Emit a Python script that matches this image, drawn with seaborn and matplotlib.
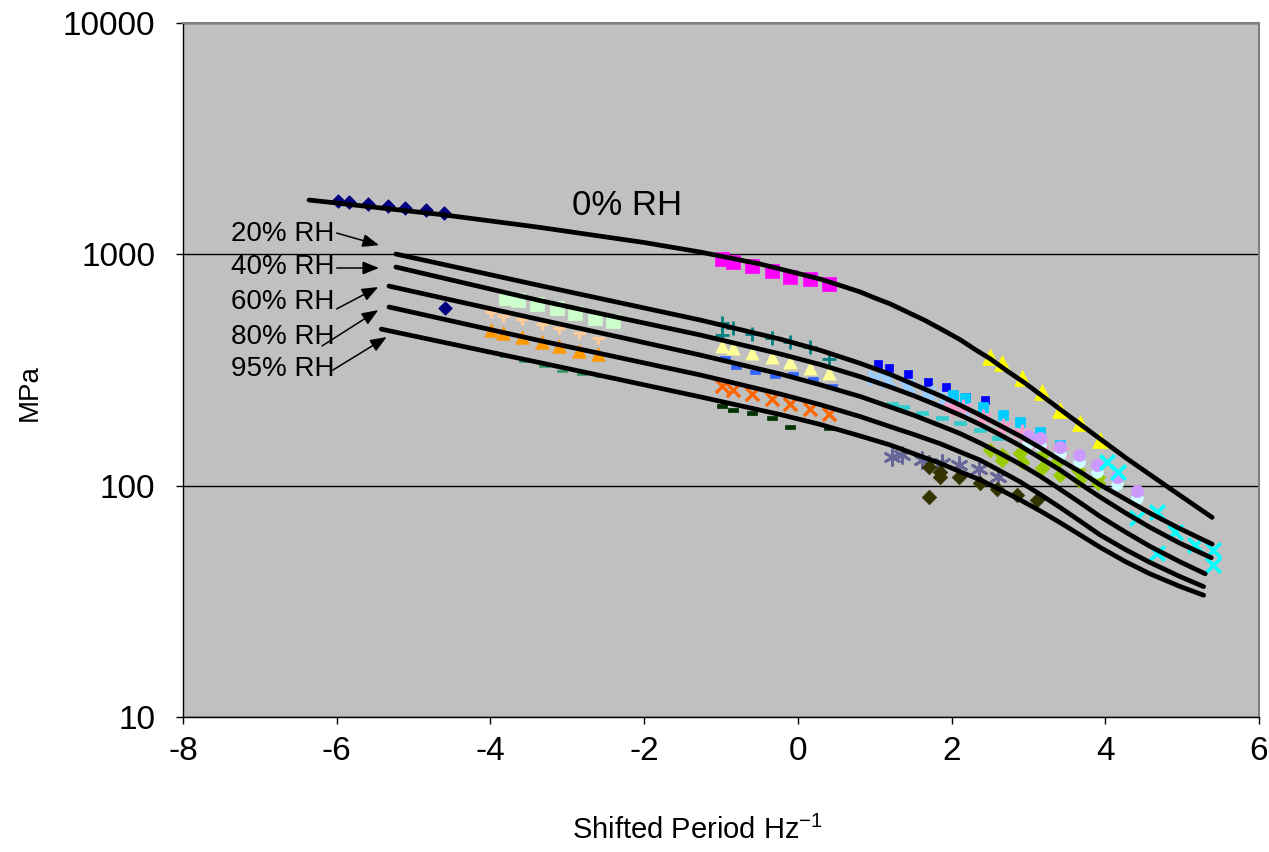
import matplotlib
matplotlib.use("Agg")
import matplotlib.pyplot as plt
from matplotlib.path import Path
from matplotlib.ticker import NullLocator
import seaborn as sns

# ---- fitted master curves (shifted period, storage modulus in MPa) ----
rh0_x = [-6.36, -5.44, -4.59, -3.39, -2.00, -1.27, -0.49, -0.10, 0.29, 0.55, 0.81, 1.00,
         1.20, 1.42, 1.65, 1.88, 2.11, 2.30, 2.50, 2.73, 2.96, 3.41, 3.87, 4.28, 4.84, 5.39]
rh0_y = [1717, 1589, 1479, 1312, 1125, 1023, 908, 843, 782, 734, 688, 648,
         611, 564, 519, 472, 428, 389, 354, 312, 277, 214, 165, 131, 97.3, 72.9]

rh20_x = [-5.23, -3.39, -2.31, -1.27, -0.23, 0.29, 0.81, 1.20, 1.52, 1.85, 2.11,
          2.37, 2.63, 2.89, 3.15, 3.41, 3.67, 3.93, 4.26, 4.58, 4.97, 5.39]
rh20_y = [1003, 737, 617, 520, 430, 385, 338, 303, 273, 245, 223,
          202, 182, 164, 146, 129, 115, 101, 87.5, 76.1, 65.2, 55.9]

rh40_x = [-5.23, -3.39, -2.31, -1.27, -0.23, 0.29, 0.81, 1.20, 1.52, 1.85, 2.11,
          2.37, 2.63, 2.89, 3.15, 3.41, 3.67, 3.93, 4.26, 4.58, 4.97, 5.38]
rh40_y = [881, 635, 531, 448, 371, 334, 296, 267, 244, 220, 202,
          184, 166, 149, 132, 117, 102, 89.4, 76.3, 66.1, 56.4, 48.8]

rh60_x = [-5.32, -3.39, -2.31, -1.27, -0.23, 0.29, 0.81, 1.20, 1.52, 1.85, 2.11,
          2.37, 2.63, 2.89, 3.15, 3.41, 3.67, 3.93, 4.26, 4.58, 4.97, 5.30]
rh60_y = [729, 525, 438, 367, 304, 273, 243, 219, 201, 182, 168,
          153, 138, 124, 110, 96.6, 84.5, 73.7, 63.1, 54.7, 46.9, 41.6]

rh80_x = [-5.32, -3.39, -2.31, -1.27, -0.23, 0.29, 0.81, 1.20, 1.52, 1.85, 2.11,
          2.37, 2.63, 2.89, 3.15, 3.41, 3.67, 3.93, 4.26, 4.58, 4.97, 5.28]
rh80_y = [592, 426, 357, 301, 249, 224, 199, 180, 166, 152, 140,
          129, 116, 104, 91.8, 80.6, 70.4, 61.3, 53.0, 46.6, 40.5, 36.6]

rh95_x = [-5.42, -3.39, -2.31, -1.27, -0.23, 0.29, 0.81, 1.20, 1.52, 1.85, 2.11,
          2.37, 2.63, 2.89, 3.15, 3.41, 3.67, 3.93, 4.26, 4.58, 4.97, 5.28]
rh95_y = [475, 342, 287, 242, 203, 184, 164, 150, 137, 125, 115,
          106, 96.2, 86.9, 77.9, 69.3, 61.3, 54.2, 47.0, 41.6, 36.7, 33.6]

# ---- measured points, one array pair per test condition ----
navy_x = [-5.98, -5.84, -5.59, -5.33, -5.11, -4.84, -4.60, -4.59]
navy_y = [1700, 1683, 1650, 1618, 1586, 1554, 1509, 586]

magenta_x = [-0.99, -0.84, -0.60, -0.34, -0.10, 0.16, 0.41]
magenta_y = [954, 926, 890, 847, 798, 782, 744]

mint_x = [-3.80, -3.64, -3.39, -3.13, -2.90, -2.64, -2.41]
mint_y = [647, 634, 610, 586, 558, 530, 515]

peach_x = [-3.99, -3.84, -3.59, -3.33, -3.11, -2.85, -2.60]
peach_y = [547, 525, 510, 485, 466, 444, 422]

orange_x = [-3.99, -3.84, -3.59, -3.33, -3.11, -2.85, -2.60]
orange_y = [471, 457, 439, 418, 401, 382, 371]

seagreen_x = [-3.97, -3.81, -3.56, -3.30, -3.07, -2.81, -2.56]
seagreen_y = [378, 363, 346, 329, 313, 304, 298]

teal_x = [-0.99, -0.99, -0.84, -0.60, -0.34, -0.10, 0.16, 0.41]
teal_y = [505, 448, 480, 452, 435, 418, 397, 353]

paleyellow_x = [-0.99, -0.84, -0.60, -0.34, -0.10, 0.16, 0.41]
paleyellow_y = [401, 394, 374, 360, 342, 322, 307]

royalblue_x = [-0.95, -0.81, -0.56, -0.30, -0.06, 0.20, 0.44]
royalblue_y = [356, 326, 310, 298, 304, 289, 270]

red_orange_x = [-0.99, -0.84, -0.60, -0.34, -0.10, 0.16, 0.41]
red_orange_y = [270, 259, 249, 237, 225, 214, 204]

darkgreen_x = [-0.99, -0.84, -0.60, -0.34, -0.10, 0.41]
darkgreen_y = [221, 212, 206, 196, 179, 177]

blue_x = [1.04, 1.19, 1.43, 1.69, 1.93, 2.19, 2.44]
blue_y = [336, 322, 304, 281, 267, 242, 234]

skyblue_x = [1.00, 1.16, 1.42, 1.68, 1.91, 2.15]
skyblue_y = [292, 286, 270, 251, 239, 217]

turquoise_x = [1.23, 1.37, 1.62, 1.88, 2.11, 2.37, 2.60]
turquoise_y = [225, 219, 206, 196, 186, 174, 161]

slate_x = [1.23, 1.36, 1.62, 1.88, 2.10, 2.36, 2.60]
slate_y = [133, 136, 129, 125, 123, 118, 109]

deepsky_x = [2.02, 2.17, 2.41, 2.67, 2.89, 3.15, 3.41]
deepsky_y = [246, 239, 219, 202, 188, 170, 150]

pink_x = [2.01, 2.15, 2.41, 2.67, 2.92, 3.15, 3.41]
pink_y = [219, 217, 196, 179, 169, 153, 140]

olive_x = [1.71, 1.85, 1.85, 2.10, 2.37, 2.59, 2.85, 3.11, 1.71]
olive_y = [120, 115, 109, 109, 103, 96.7, 91.1, 86.7, 89.3]

yellowgreen_x = [2.50, 2.66, 2.89, 3.18, 3.37, 3.64, 3.91, 2.66, 2.92, 3.18, 3.41, 3.66, 3.91]
yellowgreen_y = [143, 136, 138, 136, 127, 117, 109, 129, 127, 119, 111, 106, 103]

yellow_x = [2.50, 2.66, 2.92, 3.18, 3.41, 3.67, 3.93]
yellow_y = [360, 339, 292, 254, 212, 186, 157]

palecyan_x = [2.99, 3.15, 3.41, 3.66, 3.89, 4.15, 4.41]
palecyan_y = [153, 150, 137, 127, 115, 102, 88.4]

lavender_x = [2.99, 3.15, 3.41, 3.66, 3.89, 4.15, 4.41]
lavender_y = [164, 161, 147, 136, 123, 109, 94.8]

cyan_x = [4.02, 4.17, 4.41, 4.67, 4.67, 4.91, 5.17, 5.40, 5.40]
cyan_y = [127, 115, 72.4, 76.9, 51.1, 63.0, 55.4, 52.7, 45.4]

# curve labels
rh_labels = ["20% RH", "40% RH", "60% RH", "80% RH", "95% RH"]
rh_label_y = [1224, 881, 622, 439, 319]
arrow_start_x = [-6.00, -6.00, -6.00, -6.19, -6.05]
arrow_start_y = [1236, 873, 581, 402, 316]
arrow_end_x = [-5.45, -5.45, -5.46, -5.46, -5.35]
arrow_end_y = [1096, 873, 722, 574, 439]

x_ticks = [-8, -6, -4, -2, 0, 2, 4, 6]
x_tick_labels = ["-8", "-6", "-4", "-2", "0", "2", "4", "6"]
y_ticks = [10, 100, 1000, 10000]
y_tick_labels = ["10", "100", "1000", "10000"]

# ---- style ----
sns.set_theme(style="white")
plt.rcParams["font.family"] = ["Liberation Sans", "DejaVu Sans"]
plt.rcParams["axes.unicode_minus"] = False
plt.rcParams["mathtext.fontset"] = "custom"
plt.rcParams["mathtext.rm"] = "Liberation Sans"
plt.rcParams["mathtext.it"] = "Liberation Sans:italic"
plt.rcParams["mathtext.default"] = "regular"

fig = plt.figure(figsize=(12.69, 8.52), dpi=100)
fig.patch.set_facecolor("white")
ax = fig.add_axes([183 / 1269, 1 - 717 / 852, 1076 / 1269, 694 / 852])
ax.set_facecolor("#C0C0C0")

# custom marker shapes
t_bar = Path([(-1, 0.45), (1, 0.45), (0, 0.45), (0, -0.55)],
             [Path.MOVETO, Path.LINETO, Path.MOVETO, Path.LINETO])
dash = Path([(-1, -0.32), (1, -0.32), (1, 0.32), (-1, 0.32), (-1, -0.32)],
            [Path.MOVETO, Path.LINETO, Path.LINETO, Path.LINETO, Path.CLOSEPOLY])
asterisk = (6, 2, 0)

# (x, y, colour, marker, area, linewidth, filled)
point_sets = [
    (navy_x, navy_y, "#000080", "D", 48, 0.5, True),
    (magenta_x, magenta_y, "#FF00FF", "s", 90, 0.5, True),
    (mint_x, mint_y, "#CCFFCC", "s", 90, 0.5, True),
    (peach_x, peach_y, "#FFCC99", t_bar, 75, 2.4, True),
    (orange_x, orange_y, "#FF9900", "^", 95, 0.5, True),
    (seagreen_x, seagreen_y, "#339966", dash, 45, 0.5, True),
    (teal_x, teal_y, "#008080", "+", 110, 2.0, False),
    (paleyellow_x, paleyellow_y, "#FFFF99", "^", 90, 0.5, True),
    (royalblue_x, royalblue_y, "#3366FF", dash, 55, 0.5, True),
    (red_orange_x, red_orange_y, "#FF6600", "x", 90, 2.4, False),
    (darkgreen_x, darkgreen_y, "#003300", dash, 60, 0.5, True),
    (blue_x, blue_y, "#0000FF", "s", 36, 0.5, True),
    (skyblue_x, skyblue_y, "#99CCFF", "x", 90, 3.5, False),
    (turquoise_x, turquoise_y, "#33CCCC", dash, 65, 0.5, True),
    (slate_x, slate_y, "#666699", asterisk, 130, 2.0, False),
    (deepsky_x, deepsky_y, "#00CCFF", "s", 55, 0.5, True),
    (pink_x, pink_y, "#FF99CC", asterisk, 120, 2.0, False),
    (olive_x, olive_y, "#333300", "D", 55, 0.5, True),
    (yellowgreen_x, yellowgreen_y, "#99CC00", "D", 55, 0.5, True),
    (yellow_x, yellow_y, "#FFFF00", "^", 130, 0.5, True),
    (palecyan_x, palecyan_y, "#CCFFFF", "o", 70, 0.5, True),
    (lavender_x, lavender_y, "#CC99FF", "o", 80, 0.5, True),
    (cyan_x, cyan_y, "#00FFFF", "x", 110, 2.6, False),
]

for px, py, col, mk, area, lw, filled in point_sets:
    kws = dict(x=px, y=py, color=col, marker=mk, s=area, linewidth=lw,
               ax=ax, zorder=2, legend=False)
    if filled:
        kws["edgecolor"] = col
    sns.scatterplot(**kws)

# master curves drawn over the data
for cx, cy in [(rh0_x, rh0_y), (rh20_x, rh20_y), (rh40_x, rh40_y),
               (rh60_x, rh60_y), (rh80_x, rh80_y), (rh95_x, rh95_y)]:
    sns.lineplot(x=cx, y=cy, sort=False, estimator=None, color="black",
                 linewidth=3.4, ax=ax, zorder=4, legend=False)
for ln in ax.get_lines():
    ln.set_solid_capstyle("round")
    ln.set_solid_joinstyle("round")

ax.set_yscale("log")
ax.set_xlim(-8, 6)
ax.set_ylim(10, 10000)
ax.set_xticks(x_ticks)
ax.set_xticklabels(x_tick_labels)
ax.set_yticks(y_ticks)
ax.set_yticklabels(y_tick_labels)
ax.yaxis.set_minor_locator(NullLocator())
ax.xaxis.set_minor_locator(NullLocator())

ax.yaxis.grid(True, which="major", color="black", linewidth=1.0, zorder=1)
ax.xaxis.grid(False)
ax.set_axisbelow(True)

for side in ["left", "bottom"]:
    ax.spines[side].set_color("#000000")
    ax.spines[side].set_linewidth(1.0)
for side in ["top", "right"]:
    ax.spines[side].set_color("#808080")
    ax.spines[side].set_linewidth(1.5)

ax.tick_params(axis="both", which="major", direction="out", length=5,
               width=1, color="black", labelsize=24, labelcolor="black",
               left=True, bottom=True)
ax.tick_params(axis="y", pad=15)
ax.tick_params(axis="x", pad=9)

ax.set_ylabel("MPa", fontsize=20, color="black")
ax.yaxis.label.set_va("center")
ax.yaxis.label.set_ha("center")
ax.yaxis.set_label_coords(-0.142, 0.468)
ax.set_xlabel("Shifted Period Hz$^{-1}$", fontsize=21, color="black")
ax.xaxis.set_label_coords(0.478, -0.163)
ax.xaxis.label.set_va("center")

ax.text(-2.22, 1633, "0% RH", fontsize=25, ha="center", va="center",
        color="black", zorder=5)

for lab, ly, sx, sy, ex, ey in zip(rh_labels, rh_label_y, arrow_start_x,
                                   arrow_start_y, arrow_end_x, arrow_end_y):
    ax.text(-7.375, ly, lab, fontsize=20, ha="left", va="center",
            color="black", zorder=5)
    ax.annotate("", xy=(ex, ey), xytext=(sx, sy),
                arrowprops=dict(arrowstyle="-|>,head_length=0.45,head_width=0.18",
                                mutation_scale=22, color="black", lw=1.1,
                                shrinkA=0, shrinkB=0),
                zorder=5)

fig.savefig("out.png", dpi=100, facecolor="white")
